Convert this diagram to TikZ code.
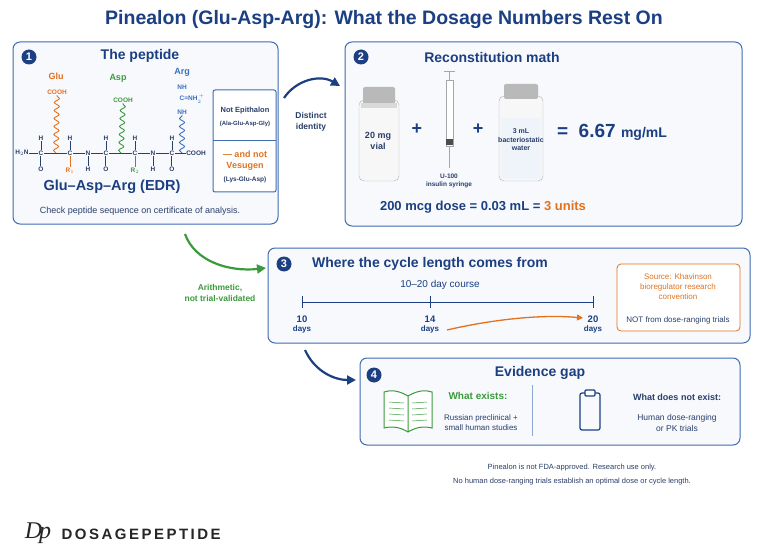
\documentclass[tikz,border=0pt]{standalone}
\usepackage{fontspec}
\setmainfont{Liberation Sans}
\usetikzlibrary{arrows.meta,decorations.pathmorphing}
\definecolor{navy}{HTML}{1B3F82}
\definecolor{bord}{HTML}{3F6DB3}
\definecolor{pfill}{HTML}{F7F9FD}
\definecolor{org}{HTML}{E2721E}
\definecolor{grn}{HTML}{3C9A3C}
\definecolor{argb}{HTML}{3A6FC0}
\definecolor{txt}{HTML}{2A3F6A}
\begin{document}
\begin{tikzpicture}[x=1pt,y=-1pt,
 panel/.style={draw=bord,line width=1pt,rounded corners=7pt,fill=pfill},
 num/.style={circle,fill=navy,text=white,font=\bfseries\fontsize{11}{11}\selectfont,inner sep=0pt,minimum size=15pt},
 ptitle/.style={text=navy,font=\bfseries\fontsize{14}{14}\selectfont},
 sm/.style={text=txt,font=\fontsize{8.5}{10}\selectfont,align=center},
 atm/.style={font=\bfseries\fontsize{6.5}{6.5}\selectfont,inner sep=0.5pt,text=txt},
 bond/.style={draw=txt,line width=0.5pt},
 wav/.style={line width=0.9pt,decorate,decoration={snake,amplitude=2.5pt,segment length=8pt}},
 vial/.style={draw=gray!60,fill=gray!6,rounded corners=5pt},
 arr/.style={-{Triangle[length=9pt,width=9pt]},line width=2.2pt}]
\useasboundingbox (0,0) rectangle (768,556);
\fill[white] (0,0) rectangle (768,556);
\node[text=navy,font=\bfseries\fontsize{19.5}{19.5}\selectfont] (title) at (384,20) {Pinealon (Glu-Asp-Arg): What the Dosage Numbers Rest On};

% Panel 1
\draw[panel] (13,42) rectangle (278,224);
\node[num] (n1) at (29,57) {1};
\node[ptitle] (t1) at (140,56) {The peptide};
\draw[bord,line width=1pt,rounded corners=2pt,fill=white] (213,90) rectangle (276,192);
\draw[bord,line width=0.8pt] (213,140) -- (276,140);
\node[sm,font=\bfseries\fontsize{7.5}{8}\selectfont] (ne) at (245,111) {Not Epithalon};
\node[sm,font=\bfseries\fontsize{6}{7}\selectfont] (ne2) at (245,124) {(Ala-Glu-Asp-Gly)};
\node[text=org,font=\bfseries\fontsize{9}{11}\selectfont,align=center] (nv) at (245,161) {— and not\\Vesugen};
\node[sm,font=\bfseries\fontsize{6.5}{7}\selectfont] (nv2) at (245,180) {(Lys-Glu-Asp)};
% backbone
\node[atm] (h2n) at (22,153) {H$_2$N};
\node[atm] (c1) at (41,153) {C};
\node[atm] (c2) at (70,153) {C};
\node[atm] (n1b) at (88,153) {N};
\node[atm] (c3) at (106,153) {C};
\node[atm] (c4) at (135,153) {C};
\node[atm] (n2b) at (153,153) {N};
\node[atm] (c5) at (172,153) {C};
\node[atm] (cooh) at (196,153) {COOH};
\draw[bond] (h2n)--(c1) (c1)--(c2) (c2)--(n1b) (n1b)--(c3) (c3)--(c4) (c4)--(n2b) (n2b)--(c5) (c5)--(cooh);
\foreach \c/\x in {c1/41,c2/70,c3/106,c4/135,c5/172}{\node[atm] (h\c) at (\x,138) {H}; \draw[bond] (\c)--(h\c);}
\foreach \c/\x in {c1/41,c3/106,c5/172}{\node[atm] (o\c) at (\x,169) {O}; \draw[bond,double,double distance=1pt] (\c)--(o\c);}
\foreach \c/\x in {n1b/88,n2b/153}{\node[atm] (h\c) at (\x,169) {H}; \draw[bond] (\c)--(h\c);}
\node[atm,text=org] (r1) at (70,171) {R$_1$}; \draw[org,line width=0.5pt] (c2)--(r1);
\node[atm,text=grn] (r2) at (135,171) {R$_2$}; \draw[grn,line width=0.5pt] (c4)--(r2);
% side chains
\coordinate (g0) at (56,153); \node[atm,text=org] (gc) at (57,92) {COOH};
\draw[org,wav] (g0) -- (gc.south);
\node[text=org,font=\bfseries\fontsize{9}{9}\selectfont] (glu) at (56,76) {Glu};
\coordinate (a0) at (121,153); \node[atm,text=grn] (ac) at (123,100) {COOH};
\draw[grn,wav] (a0) -- (ac.south);
\node[text=grn,font=\bfseries\fontsize{9}{9}\selectfont] (asp) at (118,78) {Asp};
\coordinate (r0) at (182,153); \node[atm,text=argb] (nh1) at (182,112) {NH};
\draw[argb,wav] (r0) -- (nh1.south);
\node[atm,text=argb,anchor=west] (cg) at (179,99) {C=NH$_2^{\,+}$};
\node[atm,text=argb] (nh2) at (182,87) {NH};
\draw[argb,line width=0.5pt] (nh1)--(cg.west |- nh1.north) (nh2)--(cg.west |- nh2.south);
\node[text=argb,font=\bfseries\fontsize{9}{9}\selectfont] (arg) at (182,72) {Arg};
\node[text=navy,font=\bfseries\fontsize{14.5}{14.5}\selectfont] (edr) at (112,187) {Glu–Asp–Arg (EDR)};
\node[sm,font=\fontsize{9}{9}\selectfont] (chk) at (140,211) {Check peptide sequence on certificate of analysis.};

% arrow 1->2
\coordinate (a1s) at (284,98); \coordinate (a1e) at (340,86);
\draw[arr,navy] (a1s) .. controls (296,80) and (320,74) .. (a1e);
\node[sm,font=\bfseries\fontsize{8.5}{11}\selectfont] (di) at (311,122) {Distinct\\identity};

% Panel 2
\draw[panel] (345,42) rectangle (742,226);
\node[num] (n2) at (361,57) {2};
\node[ptitle] (t2) at (492,57) {Reconstitution math};
% vial 1
\draw[vial] (359,100) rectangle (399,181);
\fill[gray!55,rounded corners=2pt] (363,87) rectangle (395,104);
\fill[gray!30] (361,103) rectangle (397,108);
\node[sm,font=\bfseries\fontsize{9}{10.5}\selectfont] (v1) at (378,141) {20 mg\\vial};
\node[text=navy,font=\bfseries\fontsize{18}{18}\selectfont] (p1) at (417,129) {+};
% syringe
\draw[gray!70,fill=white] (446,80) rectangle (453,146);
\draw[gray!70,line width=1pt] (449.5,72) -- (449.5,80);
\draw[gray!70,line width=1pt] (444,72) -- (455,72);
\fill[black!70] (446,139) rectangle (453,145);
\draw[gray!70] (449.5,146) -- (449.5,168);
\node[sm,font=\bfseries\fontsize{6.5}{7.5}\selectfont] (sy) at (449,181) {U-100\\insulin syringe};
\node[text=navy,font=\bfseries\fontsize{18}{18}\selectfont] (p2) at (478,129) {+};
% vial 2
\draw[vial] (499,96) rectangle (543,181);
\fill[gray!55,rounded corners=2pt] (504,84) rectangle (538,99);
\fill[argb!8] (501,118) rectangle (541,179);
\node[sm,font=\bfseries\fontsize{7}{8.5}\selectfont] (v2) at (521,140) {3 mL\\bacteriostatic\\water};
\node[text=navy,font=\bfseries\fontsize{19}{19}\selectfont] (res) at (612,132) {= \ 6.67 {\fontsize{14}{14}\selectfont mg/mL}};
\node[text=navy,font=\bfseries\fontsize{13}{13}\selectfont] (dose) at (483,207) {200 mcg dose = 0.03 mL = \textcolor{org}{3 units}};

% arrow 1->3
\coordinate (a2s) at (185,234); \coordinate (a2e) at (266,268);
\draw[arr,grn] (a2s) .. controls (195,262) and (230,272) .. (a2e);
\node[text=grn,font=\bfseries\fontsize{8.5}{11}\selectfont,align=center] (ar) at (220,293) {Arithmetic,\\not trial-validated};

% Panel 3
\draw[panel] (268,248) rectangle (750,343);
\node[num] (n3) at (284,264) {3};
\node[ptitle] (t3) at (430,264) {Where the cycle length comes from};
\node[text=navy,font=\fontsize{10}{10}\selectfont] (crs) at (440,285) {10–20 day course};
\draw[navy,line width=1pt] (302,302) -- (593,302);
\foreach \x/\d in {302/10,430/14,593/20}{
 \draw[navy,line width=1pt] (\x,296) -- (\x,308);
 \node[text=navy,font=\bfseries\fontsize{9.5}{11}\selectfont,align=center] (d\d) at (\x,325) {\d\\[-2pt]{\fontsize{8}{8}\selectfont days}};}
\coordinate (oa) at (447,330); \coordinate (ob) at (583,318);
\draw[org,line width=1.3pt,-{Triangle[length=6pt,width=6pt]}] (oa) .. controls (490,320) and (540,314) .. (ob);
\draw[org,line width=0.8pt,rounded corners=4pt,fill=white] (617,264) rectangle (740,331);
\node[text=org,font=\fontsize{8}{10}\selectfont,align=center] (src) at (678,287) {Source: Khavinson\\bioregulator research\\convention};
\node[sm,font=\fontsize{8}{8}\selectfont] (nf) at (678,320) {NOT from dose-ranging trials};

% arrow 3->4
\coordinate (a3s) at (305,350); \coordinate (a3e) at (356,380);
\draw[arr,navy] (a3s) .. controls (315,372) and (335,380) .. (a3e);

% Panel 4
\draw[panel] (360,358) rectangle (740,445);
\node[num] (n4) at (374,375) {4};
\node[ptitle] (t4) at (540,373) {Evidence gap};
% book
\draw[grn,line width=1pt,fill=white] (408,396) .. controls (398,390) and (390,390) .. (384,392) -- (384,428) .. controls (392,426) and (400,427) .. (408,432) .. controls (416,427) and (424,426) .. (432,428) -- (432,392) .. controls (426,390) and (418,390) .. (408,396) -- (408,432);
\foreach \y in {402,408,414,420}{\draw[grn,line width=0.5pt] (389,\y) -- (404,\y+1) (412,\y+1) -- (427,\y);}
\node[text=grn,font=\bfseries\fontsize{10}{10}\selectfont] (we) at (478,396) {What exists:};
\node[sm,font=\fontsize{8}{10}\selectfont] (we2) at (481,423) {Russian preclinical +\\small human studies};
\draw[bord!60,line width=0.6pt] (532,385) -- (532,436);
% clipboard
\draw[navy,line width=1.2pt,rounded corners=2pt] (580,393) rectangle (600,430);
\draw[navy,line width=1.2pt,fill=white,rounded corners=1pt] (585,390) rectangle (595,396);
\node[text=txt,font=\bfseries\fontsize{9}{9}\selectfont] (wn) at (677,397) {What does not exist:};
\node[sm,font=\fontsize{8.5}{10.5}\selectfont] (wn2) at (677,423) {Human dose-ranging\\or PK trials};

\node[sm,font=\fontsize{7.5}{8}\selectfont] (f1) at (572,468) {Pinealon is not FDA-approved. Research use only.};
\node[sm,font=\fontsize{7.5}{8}\selectfont] (f2) at (572,482) {No human dose-ranging trials establish an optimal dose or cycle length.};

\node[text=black!85,font=\itshape\fontsize{24}{24}\selectfont] (logo) at (38,533) {\fontspec{Liberation Serif}D\kern-3pt p};
\node[text=black!85,font=\bfseries\fontsize{15}{15}\selectfont,anchor=west] (brand) at (58,534) {D\,O\,S\,A\,G\,E\,P\,E\,P\,T\,I\,D\,E};
\end{tikzpicture}
\end{document}
